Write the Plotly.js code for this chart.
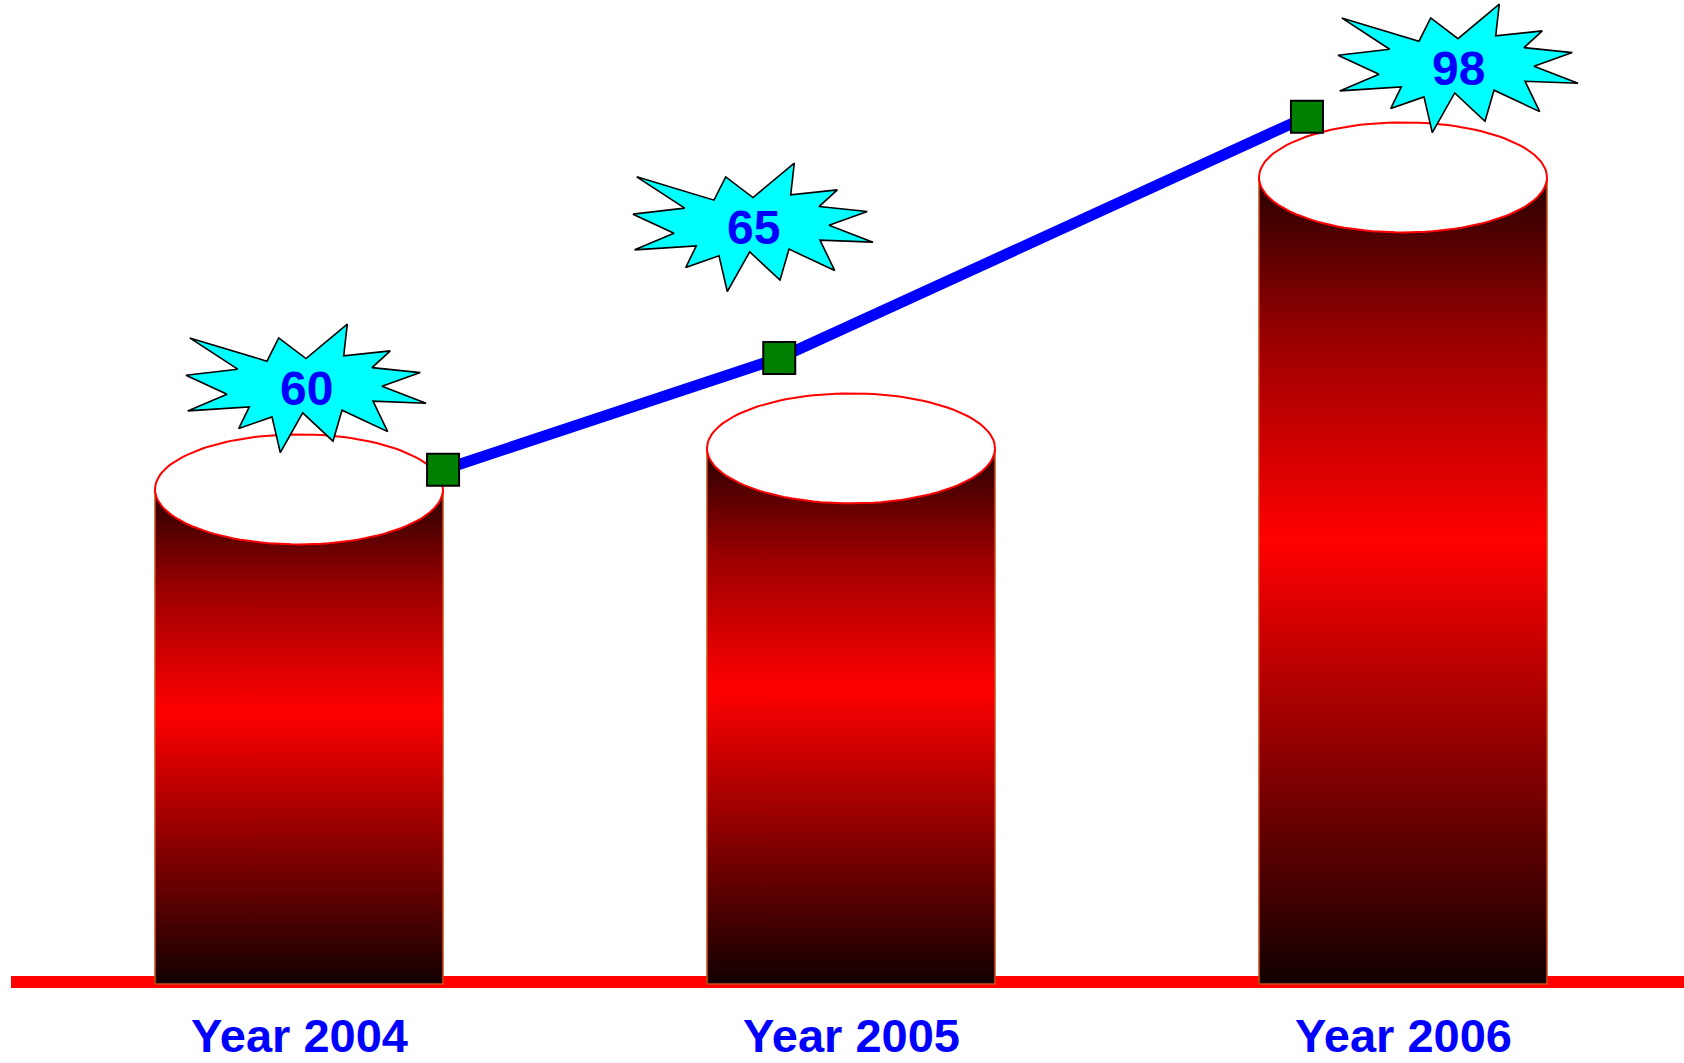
<!DOCTYPE html>
<html>
<head>
<meta charset="utf-8">
<script src="https://cdn.plot.ly/plotly-3.0.1.min.js"></script>
<style>html,body{margin:0;padding:0;background:#fff;}#chart{width:1684px;height:1063px;}</style>
</head>
<body>
<div id="chart"></div>
<script>
// ---------- data ----------
const categories = ['Year 2004', 'Year 2005', 'Year 2006'];
const values = [60, 65, 98];
// trend line (blue line with green squares)
const trendX = [0.261, 0.870, 1.826];
const trendValues = [62.4, 76.0, 105.4];

// ---------- layout / style ----------
const W = 1684, H = 1063;
const xRange = [-0.54167, 2.50906];
const yRange = [-9.866, 119.61];
const ux = (xRange[1] - xRange[0]) / W;   // axis units per pixel (x)
const uy = (yRange[1] - yRange[0]) / H;   // axis units per pixel (y)
const barHalfPx = 144;      // half width of a cylinder
const capHalfPx = 55;       // half height of the top ellipse
const badgeShiftPx = [[7, -101], [-98, -221], [55, -109]]; // callout offset from cylinder top
const FONT = 'Liberation Sans, Arial, Helvetica, sans-serif';
// starburst outline, pixel offsets from its centre
const starPx = [[-116.3,-50.5],[-39,-27.2],[-27.3,-50.5],[0,-29.8],[41.3,-64.2],[37.7,-32.5],
  [84.3,-37.5],[66,-20.8],[114.3,-15.8],[76,-2.2],[120,14.8],[67,12.8],[81.7,43.2],[36,21.8],
  [27,52.8],[-3.3,24.5],[-25.7,64.2],[-34,28.5],[-67.3,40.2],[-56.7,18.5],[-118.3,22.5],
  [-79,5.8],[-120,-13.2],[-68.3,-19.2]];
const bodyScale = [[0,'#120000'],[0.22,'#700000'],[0.55,'#ff0000'],[0.8,'#9a0000'],[1,'#260000']];

const traces = [];
categories.forEach((cat, i) => {
  const v = values[i];
  const hw = barHalfPx * ux;
  const eh = capHalfPx * uy;
  const y0 = -2 * uy;
  // cylinder body
  traces.push({
    type: 'scatter', mode: 'lines', hoverinfo: 'skip',
    x: [i - hw, i + hw, i + hw, i - hw, i - hw],
    y: [y0, y0, v, v, y0],
    fill: 'toself',
    fillgradient: {type: 'vertical', colorscale: bodyScale},
    line: {color: '#d04a14', width: 1.5}
  });
  // top ellipse
  const ex = [], ey = [];
  for (let k = 0; k <= 120; k++) {
    const t = 2 * Math.PI * k / 120;
    ex.push(i + hw * Math.cos(t));
    ey.push(v + eh * Math.sin(t));
  }
  traces.push({
    type: 'scatter', mode: 'lines', hoverinfo: 'skip',
    x: ex, y: ey, fill: 'toself', fillcolor: '#ffffff',
    line: {color: '#ff0000', width: 2}
  });
});

// trend line
traces.push({
  type: 'scatter', mode: 'lines+markers', hoverinfo: 'skip',
  x: trendX, y: trendValues,
  line: {color: '#0000ff', width: 11},
  marker: {symbol: 'square', size: 32, color: '#008000', line: {color: '#000000', width: 2}}
});

// starburst callouts
const annotations = [];
categories.forEach((cat, i) => {
  const cx = i + badgeShiftPx[i][0] * ux;
  const cy = values[i] - badgeShiftPx[i][1] * uy;
  const sx = starPx.map(p => cx + p[0] * ux);
  const sy = starPx.map(p => cy - p[1] * uy);
  sx.push(sx[0]); sy.push(sy[0]);
  traces.push({
    type: 'scatter', mode: 'lines', hoverinfo: 'skip',
    x: sx, y: sy, fill: 'toself', fillcolor: '#00ffff',
    line: {color: '#000000', width: 1.6}
  });
  annotations.push({
    x: cx, y: cy, xref: 'x', yref: 'y', text: String(values[i]), showarrow: false,
    xanchor: 'center', yanchor: 'middle',
    font: {family: FONT, size: 48, color: '#0000ff', weight: 700}
  });
  annotations.push({
    x: i, y: 0, xref: 'x', yref: 'paper', text: cat, showarrow: false,
    xanchor: 'center', yanchor: 'bottom', borderpad: 0,
    font: {family: FONT, size: 47, color: '#0000ff', weight: 700}
  });
});

const layout = {
  width: W, height: H,
  margin: {l: 0, r: 0, t: 0, b: 0, pad: 0},
  paper_bgcolor: '#ffffff', plot_bgcolor: '#ffffff',
  showlegend: false,
  xaxis: {range: xRange, visible: false, fixedrange: true},
  yaxis: {range: yRange, visible: false, fixedrange: true},
  shapes: [{
    type: 'line', layer: 'below', xref: 'paper', yref: 'y',
    x0: 11 / W, x1: 1, y0: 0, y1: 0,
    line: {color: '#ff0000', width: 12}
  }],
  annotations: annotations
};

Plotly.newPlot('chart', traces, layout, {staticPlot: true, displayModeBar: false});
</script>
</body>
</html>
